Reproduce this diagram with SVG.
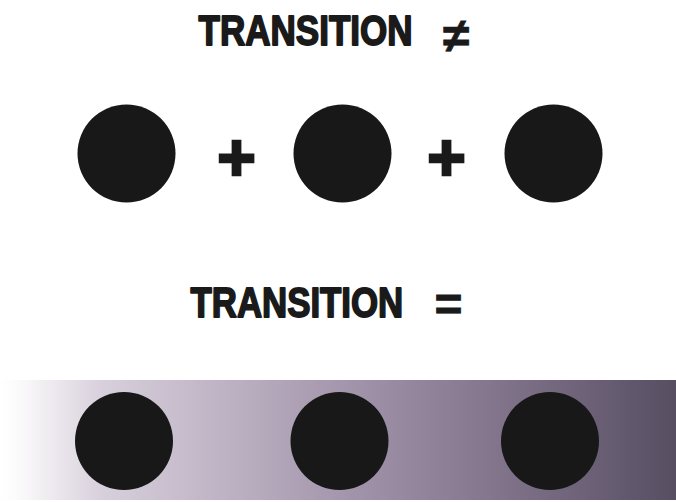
<svg xmlns="http://www.w3.org/2000/svg" width="676" height="502" viewBox="0 0 676 502">
  <defs>
    <linearGradient id="band" x1="0" y1="0" x2="1" y2="0">
      <stop offset="0" stop-color="#ffffff"/>
      <stop offset="0.03" stop-color="#fbfafb"/>
      <stop offset="0.15" stop-color="#d8d0dc"/>
      <stop offset="0.5" stop-color="#a597ad"/>
      <stop offset="0.75" stop-color="#7f7289"/>
      <stop offset="1" stop-color="#574e62"/>
    </linearGradient>
  </defs>
  <style>
    .dot { fill: #181818; }
    .title { font-family: "Liberation Sans", Arial, sans-serif; font-weight: bold; font-size: 43px; fill: #1a1a1a; stroke: #1a1a1a; stroke-width: 1.8px; stroke-linejoin: round; }
    .sym { font-family: "Liberation Sans", Arial, sans-serif; font-weight: bold; fill: #1a1a1a; text-anchor: middle; }
    .plus { font-size: 66px; stroke: #1a1a1a; stroke-width: 2.5px; }
    .eq { font-size: 48px; stroke: #1a1a1a; stroke-width: 0.8px; }
  </style>
  <rect width="676" height="502" fill="#ffffff"/>

  <g id="heading-not-equal">
    <text class="title" transform="translate(198.5,44.5) scale(0.815,1)" x="0" y="0">TRANSITION</text>
    <text class="sym eq" x="456" y="52">≠</text>
  </g>

  <g id="row-sum">
    <g id="dot-a"><circle class="dot" cx="126.5" cy="153.5" r="49"/></g>
    <g id="plus-1"><text class="sym plus" x="236.5" y="180">+</text></g>
    <g id="dot-b"><circle class="dot" cx="342.5" cy="153.5" r="49"/></g>
    <g id="plus-2"><text class="sym plus" x="446.5" y="180">+</text></g>
    <g id="dot-c"><circle class="dot" cx="553.5" cy="153.5" r="49"/></g>
  </g>

  <g id="heading-equal">
    <text class="title" transform="translate(190.5,316.5) scale(0.81,1)" x="0" y="0">TRANSITION</text>
    <text class="sym eq" x="448.5" y="321">=</text>
  </g>

  <g id="row-gradient">
    <rect id="band-bg" x="0" y="380" width="676" height="120" fill="url(#band)"/>
    <g id="dot-d"><circle class="dot" cx="124" cy="441" r="49"/></g>
    <g id="dot-e"><circle class="dot" cx="339.5" cy="441" r="49"/></g>
    <g id="dot-f"><circle class="dot" cx="550" cy="441" r="49"/></g>
  </g>

  <g id="connectors"></g>
</svg>
